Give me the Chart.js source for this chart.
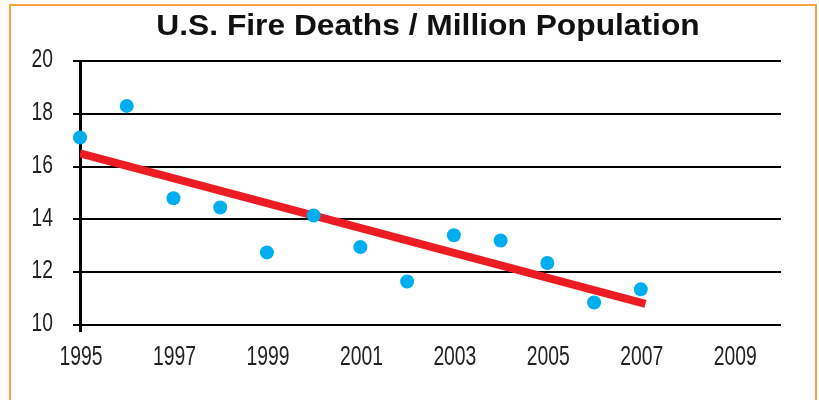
<!DOCTYPE html>
<html>
<head>
<meta charset="utf-8">
<script src="https://cdn.jsdelivr.net/npm/chart.js@4"></script>
<style>
    html, body { margin: 0; padding: 0; background: #fff; overflow: hidden; }
    #wrap { position: relative; width: 819px; height: 400px; }
    #frame {
        position: absolute; left: 9px; top: 4px; width: 808px; height: 420px;
        border: 2px solid #F9A53F; box-sizing: border-box; pointer-events: none;
    }
</style>
</head>
<body>
<div id="wrap">
    <canvas id="fire-chart" width="819" height="400"></canvas>
    <div id="frame"></div>
</div>
<script>
const chartTitle = 'U.S. Fire Deaths / Million Population';
const years = [1995, 1996, 1997, 1998, 1999, 2000, 2001, 2002, 2003, 2004, 2005, 2006, 2007];
const deathsPerMillion = [17.1, 18.3, 14.8, 14.45, 12.75, 14.15, 12.95, 11.65, 13.4, 13.2, 12.35, 10.85, 11.35];
const trendYears = [1995, 2007.1];
const trendValues = [16.5, 10.8];
const xTickLabels = [1995, 1997, 1999, 2001, 2003, 2005, 2007, 2009];
const yTickLabels = [10, 12, 14, 16, 18, 20];

const baseFont = "'Liberation Sans', Arial, sans-serif";

// the original text is squeezed sideways, so draw it with a horizontal scale
function drawSqueezed(ctx, text, x, y, font, sx, align) {
    ctx.save();
    ctx.font = font;
    ctx.textAlign = align;
    ctx.textBaseline = 'middle';
    ctx.translate(x, y);
    ctx.scale(sx, 1);
    ctx.fillText(text, 0, 0);
    ctx.restore();
}

const labelPlugin = {
    id: 'fireLabels',
    afterDraw(chart) {
        const ctx = chart.ctx;
        const xs = chart.scales.x;
        const ys = chart.scales.y;
        ctx.fillStyle = '#111';
        drawSqueezed(ctx, chartTitle, 428, 27, 'bold 29px ' + baseFont, 1.095, 'center');
        ctx.fillStyle = '#222';
        yTickLabels.forEach(v => {
            drawSqueezed(ctx, String(v), 53, ys.getPixelForValue(v) - 1, '26px ' + baseFont, 0.74, 'right');
        });
        xTickLabels.forEach(v => {
            drawSqueezed(ctx, String(v), xs.getPixelForValue(v) + 1, 357, '28px ' + baseFont, 0.69, 'center');
        });
    }
};

const ctx = document.getElementById('fire-chart').getContext('2d');
const fireChart = new Chart(ctx, {
    data: {
        datasets: [{
            type: 'scatter',
            label: 'Deaths',
            data: years.map((y, i) => ({ x: y, y: deathsPerMillion[i] })),
            backgroundColor: '#00AEEF',
            borderColor: '#00AEEF',
            pointRadius: 7,
            pointHoverRadius: 7,
            borderWidth: 0,
            clip: false,
            order: 1
        }, {
            type: 'line',
            label: 'Trend',
            data: trendYears.map((y, i) => ({ x: y, y: trendValues[i] })),
            borderColor: '#ED1C24',
            borderWidth: 8,
            borderCapStyle: 'butt',
            pointRadius: 0,
            fill: false,
            order: 2
        }]
    },
    options: {
        responsive: false,
        animation: false,
        events: [],
        layout: { padding: { left: 0, top: 61, right: 38, bottom: 0 } },
        plugins: {
            legend: { display: false },
            title: { display: false },
            tooltip: { enabled: false }
        },
        scales: {
            x: {
                type: 'linear',
                min: 1995,
                max: 2010,
                afterBuildTicks: s => { s.ticks = xTickLabels.map(v => ({ value: v })); },
                afterFit: s => { s.height = 75; },
                grid: {
                    drawOnChartArea: false,
                    drawTicks: true,
                    tickLength: 7,
                    lineWidth: 3,
                    color: c => (c.tick && c.tick.value === 1995 ? '#000' : 'rgba(0,0,0,0)')
                },
                border: { display: false },
                ticks: { display: false }
            },
            y: {
                min: 10,
                max: 20,
                afterBuildTicks: s => { s.ticks = yTickLabels.map(v => ({ value: v })); },
                afterFit: s => { s.width = 80; },
                grid: {
                    color: '#000',
                    lineWidth: 2,
                    drawTicks: true,
                    tickLength: 7
                },
                border: { display: true, color: '#000', width: 3 },
                ticks: { display: false }
            }
        }
    },
    plugins: [labelPlugin]
});
</script>
</body>
</html>
